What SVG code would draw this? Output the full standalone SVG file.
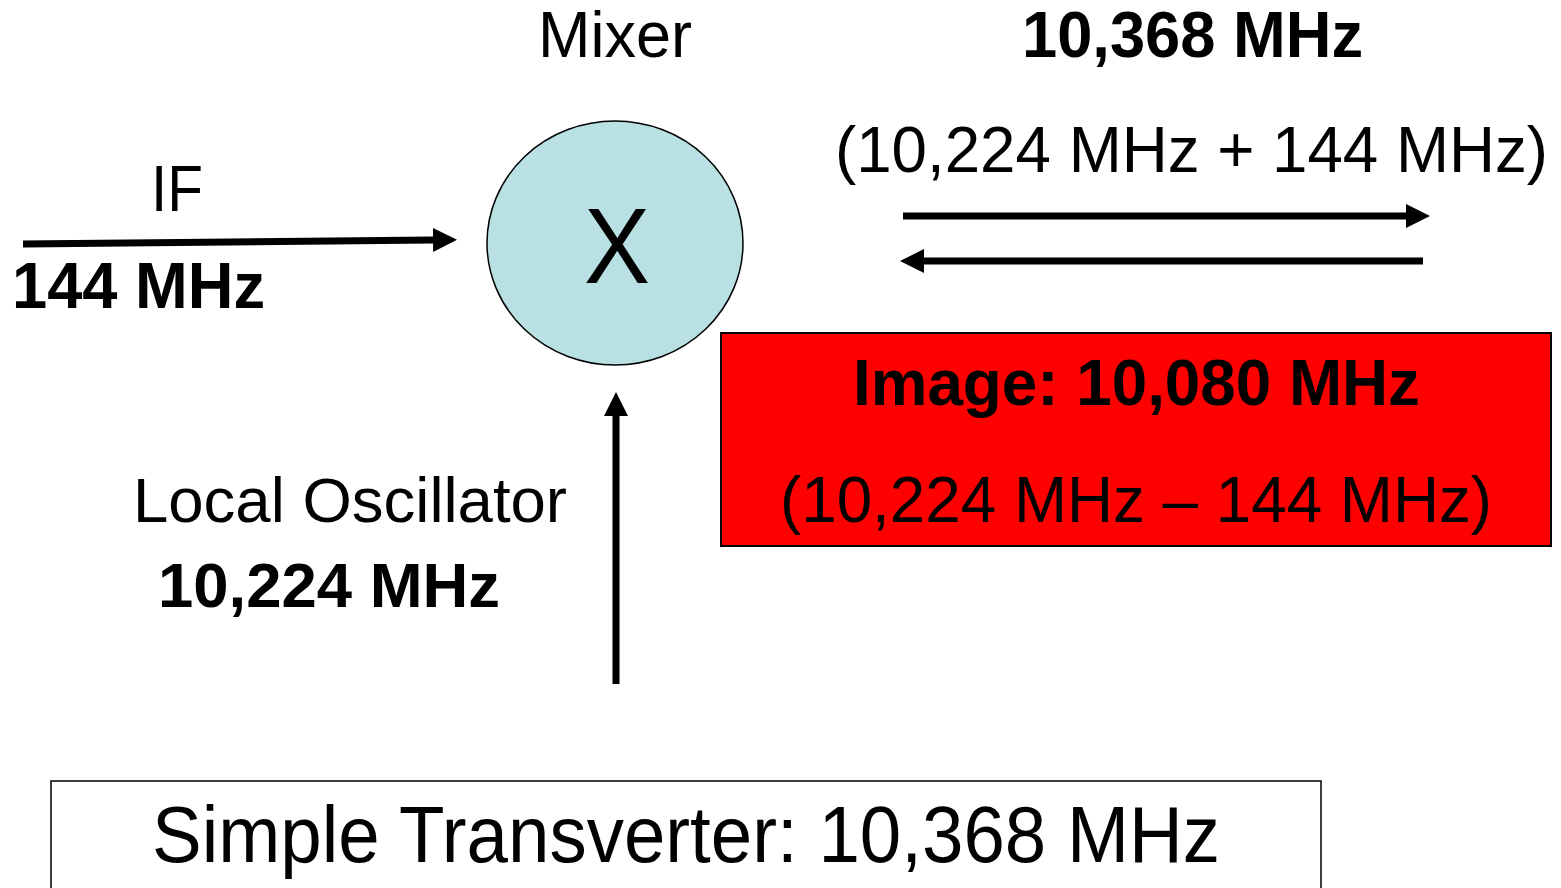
<svg xmlns="http://www.w3.org/2000/svg" width="1561" height="888" viewBox="0 0 1561 888">
<style>
  .t { font-family: "Liberation Sans", Arial, sans-serif; fill: #000; }
  .b { font-weight: bold; }
  .conn { stroke: #000; stroke-width: 7; fill: none; marker-end: url(#ah); }
</style>
<defs>
  <marker id="ah" markerUnits="userSpaceOnUse" markerWidth="26" markerHeight="26" refX="0" refY="12" orient="auto">
    <path d="M0,0 L24,12 L0,24 Z" fill="#000"/>
  </marker>
</defs>
<rect width="1561" height="888" fill="#fff"/>

<g id="connectors">
  <line class="conn" x1="23" y1="244" x2="433" y2="240"/>
  <line class="conn" x1="903" y1="216" x2="1406" y2="216"/>
  <line class="conn" x1="1423" y1="261" x2="924" y2="261"/>
  <line class="conn" x1="616" y1="684" x2="616" y2="416"/>
</g>

<g id="mixer">
  <ellipse cx="615" cy="243" rx="128" ry="122" fill="#B9E0E3" stroke="#000" stroke-width="1.5"/>
  <text class="t" x="617" y="283" font-size="108" text-anchor="middle" textLength="66" lengthAdjust="spacingAndGlyphs">X</text>
  <text class="t" x="538" y="57" font-size="64" textLength="154" lengthAdjust="spacingAndGlyphs">Mixer</text>
</g>

<g id="rf-label">
  <text class="t b" x="1022" y="57" font-size="64" textLength="341" lengthAdjust="spacingAndGlyphs">10,368 MHz</text>
  <text class="t" x="835" y="172" font-size="64" textLength="713" lengthAdjust="spacingAndGlyphs">(10,224 MHz + 144 MHz)</text>
</g>

<g id="if-label">
  <text class="t" x="151" y="211" font-size="64" textLength="52" lengthAdjust="spacingAndGlyphs">IF</text>
  <text class="t b" x="12" y="308" font-size="64" textLength="253" lengthAdjust="spacingAndGlyphs">144 MHz</text>
</g>

<g id="lo-label">
  <text class="t" x="133" y="522" font-size="63" textLength="434" lengthAdjust="spacingAndGlyphs">Local Oscillator</text>
  <text class="t b" x="158" y="607" font-size="63" textLength="342" lengthAdjust="spacingAndGlyphs">10,224 MHz</text>
</g>

<g id="image-box">
  <rect x="721" y="333" width="830" height="213" fill="#FF0000" stroke="#000" stroke-width="2"/>
  <text class="t b" x="853" y="405" font-size="64" textLength="567" lengthAdjust="spacingAndGlyphs">Image: 10,080 MHz</text>
  <text class="t" x="780" y="522" font-size="64" textLength="712" lengthAdjust="spacingAndGlyphs">(10,224 MHz – 144 MHz)</text>
</g>

<g id="title-box">
  <rect x="51" y="781" width="1270" height="130" fill="#fff" stroke="#000" stroke-width="1.5"/>
  <text class="t" x="152" y="862" font-size="80" textLength="1068" lengthAdjust="spacingAndGlyphs">Simple Transverter: 10,368 MHz</text>
</g>
</svg>
